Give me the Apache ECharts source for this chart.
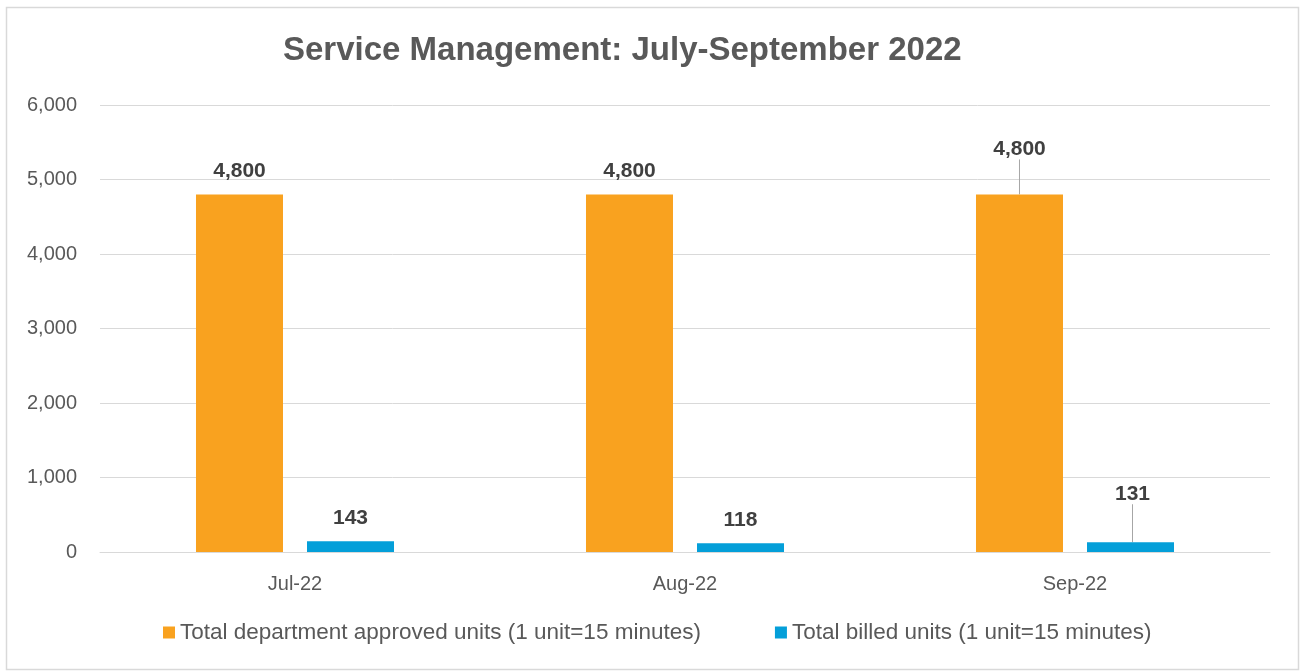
<!DOCTYPE html>
<html>
<head>
<meta charset="utf-8">
<script src="https://cdn.jsdelivr.net/npm/echarts@6/dist/echarts.min.js"></script>
<style>
html,body{margin:0;padding:0;background:#fff;}
#c{width:1301px;height:671px;}
</style>
</head>
<body>
<div id="c"></div>
<script>
const categories = ['Jul-22', 'Aug-22', 'Sep-22'];
const approvedUnits = [4800, 4800, 4800];
const billedUnits = [143, 118, 131];
const yTicks = [0, 1000, 2000, 3000, 4000, 5000, 6000];
const seriesNames = ['Total department approved units (1 unit=15 minutes)', 'Total billed units (1 unit=15 minutes)'];
// labels that were dragged off the bar in the original (shown with a leader line)
const movedLabelIndex = 2;

const FONT = '"Liberation Sans", Arial, sans-serif';
const chart = echarts.init(document.getElementById('c'), null, {renderer: 'canvas'});

function fmt(v){ return v.toLocaleString('en-US'); }

const labelCommon = {
  show: true, position: 'top', distance: 13,
  fontFamily: FONT, fontSize: 21, fontWeight: 'bold', color: '#404040',
  formatter: p => fmt(p.value)
};

function withLeader(values){
  return values.map((v, i) => ({
    value: v,
    labelLine: {show: i === movedLabelIndex, lineStyle: {color: '#A6A6A6', width: 1}}
  }));
}

chart.setOption({
  animation: false,
  backgroundColor: '#fff',
  title: {
    text: 'Service Management: July-September 2022',
    left: 278, top: 29,
    textStyle: {fontFamily: FONT, fontSize: 33, fontWeight: 'bold', color: '#595959'}
  },
  graphic: [{
    type: 'rect', left: 4, top: 5, silent: true,
    shape: {width: 1292, height: 662},
    style: {fill: 'none', stroke: '#D9D9D9', lineWidth: 1.5}
  }],
  legend: {
    bottom: 22, left: 158, itemWidth: 12, itemHeight: 12, itemGap: 74,
    icon: 'rect',
    textStyle: {fontFamily: FONT, fontSize: 22.5, color: '#595959'},
    data: seriesNames
  },
  grid: {left: 100, right: 31, top: 105, bottom: 119, containLabel: false},
  xAxis: {
    type: 'category', data: categories,
    axisLine: {show: true, lineStyle: {color: '#D9D9D9', width: 1}},
    axisTick: {show: false},
    axisLabel: {fontFamily: FONT, fontSize: 20, color: '#595959', margin: 22}
  },
  yAxis: {
    type: 'value', min: yTicks[0], max: yTicks[yTicks.length - 1], interval: 1000,
    axisLine: {show: false}, axisTick: {show: false},
    splitLine: {lineStyle: {color: '#D9D9D9', width: 1}},
    axisLabel: {fontFamily: FONT, fontSize: 20, color: '#595959', margin: 23, formatter: v => fmt(v)}
  },
  series: [
    {
      name: seriesNames[0], type: 'bar', data: withLeader(approvedUnits),
      barWidth: 87, barGap: '27.6%',
      itemStyle: {color: '#F9A21F'},
      label: labelCommon,
      labelLayout: p => (p.dataIndex === movedLabelIndex ? {dy: -22} : {})
    },
    {
      name: seriesNames[1], type: 'bar', data: withLeader(billedUnits),
      barWidth: 87,
      itemStyle: {color: '#049FD9'},
      label: labelCommon,
      labelLayout: p => (p.dataIndex === movedLabelIndex ? {dy: -25, dx: 2} : {})
    }
  ]
});
</script>
</body>
</html>
